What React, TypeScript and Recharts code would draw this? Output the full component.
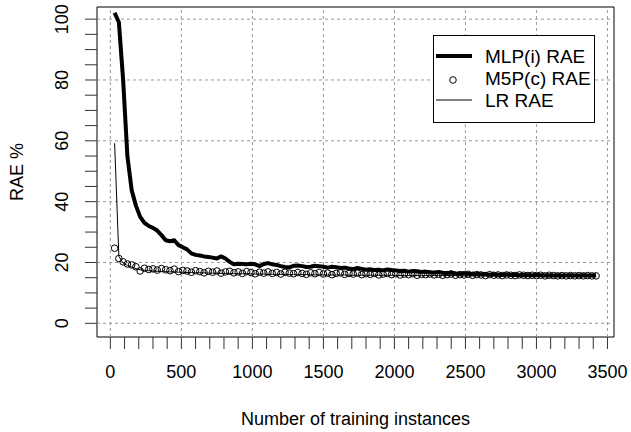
import React from 'react';
import {
  ComposedChart,
  Line,
  XAxis,
  YAxis,
  ReferenceLine,
  ReferenceArea,
  Legend,
} from 'recharts';

const FONT = '"Liberation Sans", Arial, Helvetica, sans-serif';

// Number of training instances (x)
const instances = [
  30, 60, 90, 120, 150, 180, 210, 240, 270, 300,
  330, 360, 390, 420, 450, 480, 510, 540, 570, 600,
  630, 660, 690, 720, 750, 780, 810, 840, 870, 900,
  930, 960, 990, 1020, 1050, 1080, 1110, 1140, 1170, 1200,
  1230, 1260, 1290, 1320, 1350, 1380, 1410, 1440, 1470, 1500,
  1530, 1560, 1590, 1620, 1650, 1680, 1710, 1740, 1770, 1800,
  1830, 1860, 1890, 1920, 1950, 1980, 2010, 2040, 2070, 2100,
  2130, 2160, 2190, 2220, 2250, 2280, 2310, 2340, 2370, 2400,
  2430, 2460, 2490, 2520, 2550, 2580, 2610, 2640, 2670, 2700,
  2730, 2760, 2790, 2820, 2850, 2880, 2910, 2940, 2970, 3000,
  3030, 3060, 3090, 3120, 3150, 3180, 3210, 3240, 3270, 3300,
  3330, 3360, 3390, 3420,
];

// MLP(i) RAE %
const mlpRAE = [
  102.1, 99, 80, 55, 43.8, 38.7, 35, 33, 32, 31.4,
  30.5, 29, 27.3, 27, 27.3, 25.7, 25, 24.3, 23, 22.5,
  22.3, 22, 21.8, 21.6, 21.3, 22, 21.3, 20.2, 19.4, 19.6,
  19.5, 19.4, 19.6, 19.4, 18.8, 19.5, 19.8, 19.4, 19.2, 18.8,
  18.5, 18.4, 18.9, 19, 18.8, 18.5, 18.6, 18.9, 18.8, 18.6,
  18.3, 18.6, 18.4, 18.2, 18.3, 18, 17.8, 18.2, 17.9, 17.6,
  17.8, 17.5, 17.6, 17.4, 17.7, 17.5, 17.4, 17.2, 17.3, 17.0,
  17.2, 17.1, 16.9, 17.0, 16.8, 16.7, 16.9, 16.6, 16.5, 16.7,
  16.4, 16.3, 16.5, 16.3, 16.2, 16.4, 16.1, 16.2, 16.0, 16.1,
  16.0, 15.9, 16.1, 15.9, 16.0, 15.8, 15.9, 15.8, 15.8, 15.9,
  15.8, 15.7, 15.8, 15.7, 15.8, 15.7, 15.7, 15.8, 15.7, 15.7,
  15.8, 15.7, 15.7, 15.8,
];

// M5P(c) RAE %
const m5pRAE = [
  24.7, 21.3, 20.2, 19.5, 19.2, 18.6, 17.2, 18.1, 17.7, 17.9,
  17.5, 18.0, 17.6, 17.3, 17.8, 17.0, 17.4, 17.2, 16.8, 17.3,
  17.0, 16.6, 17.1, 16.8, 17.2, 16.5, 16.9, 17.1, 16.6, 16.9,
  16.4, 17.0, 16.7, 16.3, 16.8, 16.5, 16.9, 16.4, 16.7, 16.2,
  16.8, 16.5, 16.3, 16.7, 16.4, 16.1, 16.6, 16.3, 16.7, 16.2,
  16.5, 16.0, 16.4, 16.6, 16.1, 16.4, 16.2, 16.5, 16.0, 16.3,
  16.1, 16.4, 15.9, 16.2, 16.4, 16.0, 16.3, 15.9, 16.2, 16.0,
  16.3, 15.8, 16.1, 16.0, 16.2, 15.9, 16.1, 15.8, 16.0, 16.2,
  15.8, 16.0, 15.9, 16.1, 15.8, 16.0, 15.9, 15.7, 16.0, 15.8,
  15.9, 15.7, 15.9, 15.8, 15.7, 15.9, 15.8, 15.7, 15.8, 15.7,
  15.8, 15.6, 15.8, 15.7, 15.6, 15.7, 15.6, 15.7, 15.6, 15.7,
  15.6, 15.7, 15.6, 15.6,
];

// LR RAE %
const lrRAE = [
  59.2, 22, 19.8, 19.0, 18.5, 18.0, 17.6, 17.4, 17.3, 17.2,
  17.1, 17.0, 17.0, 16.9, 16.9, 16.8, 16.8, 16.7, 16.7, 16.6,
  16.6, 16.6, 16.5, 16.5, 16.5, 16.4, 16.4, 16.4, 16.3, 16.3,
  16.3, 16.3, 16.2, 16.2, 16.2, 16.2, 16.1, 16.1, 16.1, 16.1,
  16.1, 16.0, 16.0, 16.0, 16.0, 16.0, 16.0, 15.9, 15.9, 15.9,
  15.9, 15.9, 15.9, 15.9, 15.9, 15.8, 15.8, 15.8, 15.8, 15.8,
  15.8, 15.8, 15.8, 15.8, 15.8, 15.8, 15.7, 15.7, 15.7, 15.7,
  15.7, 15.7, 15.7, 15.7, 15.7, 15.7, 15.7, 15.7, 15.7, 15.7,
  15.7, 15.6, 15.6, 15.6, 15.6, 15.6, 15.6, 15.6, 15.6, 15.6,
  15.6, 15.6, 15.6, 15.6, 15.6, 15.6, 15.6, 15.6, 15.6, 15.6,
  15.6, 15.6, 15.6, 15.6, 15.6, 15.6, 15.6, 15.6, 15.6, 15.6,
  15.5, 15.5, 15.5, 15.5,
];

const seriesNames = ['MLP(i) RAE', 'M5P(c) RAE', 'LR RAE'];

const xTicks = [
  0, 100, 200, 300, 400, 500, 600, 700, 800, 900, 1000, 1100, 1200, 1300, 1400, 1500,
  1600, 1700, 1800, 1900, 2000, 2100, 2200, 2300, 2400, 2500, 2600, 2700, 2800, 2900,
  3000, 3100, 3200, 3300, 3400, 3500,
];
const xLabelTicks = [0, 500, 1000, 1500, 2000, 2500, 3000, 3500];
const yTicks = [0, 5, 10, 15, 20, 25, 30, 35, 40, 45, 50, 55, 60, 65, 70, 75, 80, 85, 90, 95, 100];
const yLabelTicks = [0, 20, 40, 60, 80, 100];

const X_DOMAIN: [number, number] = [-94, 3546];
const Y_DOMAIN: [number, number] = [-4.5, 104];

const data = instances.map((x, i) => ({
  x,
  mlp: mlpRAE[i],
  m5p: m5pRAE[i],
  lr: lrRAE[i],
}));

const XTick = (props: any) => {
  const { x, y, payload } = props;
  if (!xLabelTicks.includes(payload.value)) return <g />;
  return (
    <text
      x={x}
      y={y + 21}
      textAnchor="middle"
      dominantBaseline="central"
      fontSize={18}
      fontFamily={FONT}
      fill="#000"
    >
      {payload.value}
    </text>
  );
};

const YTick = (props: any) => {
  const { x, y, payload } = props;
  if (!yLabelTicks.includes(payload.value)) return <g />;
  const cx = x - 21;
  return (
    <text
      x={cx}
      y={y}
      transform={`rotate(-90 ${cx} ${y})`}
      textAnchor="middle"
      dominantBaseline="central"
      fontSize={18}
      fontFamily={FONT}
      fill="#000"
    >
      {payload.value}
    </text>
  );
};

const LegendBox = () => (
  <svg width={163} height={89} style={{ display: 'block' }}>
    <rect x={0.5} y={0.5} width={161} height={87} fill="#fff" stroke="#000" strokeWidth={1} />
    <line x1={3} x2={39} y1={21} y2={21} stroke="#000" strokeWidth={4} />
    <circle cx={20} cy={45} r={3.3} fill="none" stroke="#000" strokeWidth={1} />
    <line x1={3} x2={39} y1={65} y2={65} stroke="#000" strokeWidth={1} />
    {seriesNames.map((n, i) => (
      <text
        key={n}
        x={52}
        y={21 + i * 22}
        dominantBaseline="central"
        fontSize={19}
        fontFamily={FONT}
        fill="#000"
      >
        {n}
      </text>
    ))}
  </svg>
);

export default function App() {
  return (
    <div style={{ position: 'absolute', left: 0, top: 0, width: 631, height: 432, background: '#fff' }}>
      <ComposedChart
        width={631}
        height={432}
        data={data}
        margin={{ top: 7, right: 17, bottom: 0, left: 0 }}
      >
        <XAxis
          dataKey="x"
          type="number"
          domain={X_DOMAIN}
          allowDataOverflow
          ticks={xTicks}
          interval={0}
          tickSize={12}
          tickLine={{ stroke: '#333' }}
          axisLine={false}
          height={95}
          tick={<XTick />}
          label={{
            content: (p: any) => {
              const vb = p.viewBox || { x: 97, y: 337, width: 517, height: 95 };
              return (
                <text
                  x={vb.x + vb.width / 2}
                  y={vb.y + 82}
                  textAnchor="middle"
                  dominantBaseline="central"
                  fontSize={18}
                  fontFamily={FONT}
                  fill="#000"
                >
                  Number of training instances
                </text>
              );
            },
          }}
        />
        <YAxis
          type="number"
          domain={Y_DOMAIN}
          allowDataOverflow
          ticks={yTicks}
          interval={0}
          tickSize={12}
          tickLine={{ stroke: '#333' }}
          axisLine={false}
          width={97}
          tick={<YTick />}
          label={{
            content: (p: any) => {
              const vb = p.viewBox || { x: 0, y: 7, width: 97, height: 330 };
              const cx = 17;
              const cy = vb.y + vb.height / 2;
              return (
                <text
                  x={cx}
                  y={cy}
                  transform={`rotate(-90 ${cx} ${cy})`}
                  textAnchor="middle"
                  dominantBaseline="central"
                  fontSize={18}
                  fontFamily={FONT}
                  fill="#000"
                >
                  RAE %
                </text>
              );
            },
          }}
        />
        {xLabelTicks.map((v) => (
          <ReferenceLine key={'gx' + v} x={v} stroke="#9a9a9a" strokeDasharray="3 3" strokeWidth={1} />
        ))}
        {yLabelTicks.map((v) => (
          <ReferenceLine key={'gy' + v} y={v} stroke="#9a9a9a" strokeDasharray="3 3" strokeWidth={1} />
        ))}
        <Line
          dataKey="mlp"
          name={seriesNames[0]}
          stroke="#000"
          strokeWidth={4}
          strokeLinejoin="round"
          dot={false}
          isAnimationActive={false}
          type="linear"
        />
        <Line
          dataKey="m5p"
          name={seriesNames[1]}
          stroke="none"
          strokeWidth={0}
          dot={{ r: 3.3, stroke: '#000', strokeWidth: 1, fill: 'none' }}
          activeDot={false}
          isAnimationActive={false}
          type="linear"
        />
        <Line
          dataKey="lr"
          name={seriesNames[2]}
          stroke="#000"
          strokeWidth={1}
          dot={false}
          isAnimationActive={false}
          type="linear"
        />
        <ReferenceArea
          x1={X_DOMAIN[0]}
          x2={X_DOMAIN[1]}
          y1={Y_DOMAIN[0]}
          y2={Y_DOMAIN[1]}
          fill="none"
          fillOpacity={0}
          stroke="#000"
          strokeWidth={1}
          ifOverflow="visible"
        />
        <Legend
          layout="vertical"
          align="center"
          verticalAlign="middle"
          wrapperStyle={{ left: 433, top: 35, width: 163, height: 89 }}
          content={() => <LegendBox />}
        />
      </ComposedChart>
    </div>
  );
}
